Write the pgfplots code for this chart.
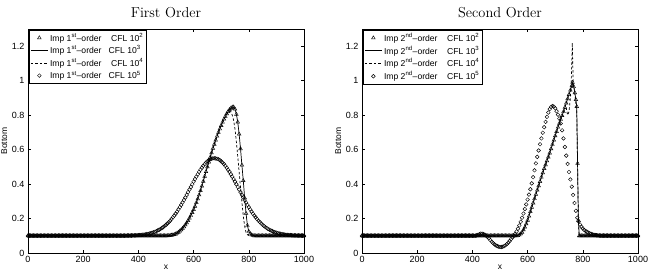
\documentclass[border=0pt]{standalone}
\usepackage{fontspec}
\setsansfont{Liberation Sans}
\usepackage{pgfplots}
\pgfplotsset{compat=1.18}

\pgfplotsset{
  bedpanel/.style={
    scale only axis,
    width=276pt, height=224pt,
    xmin=0, xmax=1000, ymin=0, ymax=1.3,
    xtick={0,200,400,600,800,1000},
    ytick={0,0.2,0.4,0.6,0.8,1,1.2},
    xtick pos=both, ytick pos=both,
    tick align=inside,
    major tick length=3pt,
    axis line style={line width=0.7pt},
    every tick/.style={line width=0.5pt, black},
    tick label style={font=\fontsize{9}{10}\selectfont\sffamily},
    /pgf/number format/assume math mode=true,
    /pgf/number format/1000 sep={},
    label style={font=\fontsize{8.5}{9}\selectfont\sffamily},
    xlabel={x}, ylabel={Bottom},
    xlabel style={yshift=5pt},
    ylabel style={yshift=-2pt},
    title style={font=\fontsize{14.4}{17}\selectfont, yshift=2pt},
    legend style={
      at={(0.004,0.996)}, anchor=north west,
      draw=black, line width=0.7pt, fill=white,
      font=\fontsize{8.6}{10}\selectfont\sffamily,
      inner sep=1pt, row sep=-0.5pt,
      nodes={inner sep=1.8pt},
    },
    legend cell align=left,
  },
  trimark/.style={only marks, black, mark=triangle, mark size=2.1pt, mark options={line width=0.45pt}},
  circmark/.style={only marks, black, mark=o, mark size=1.85pt, mark options={line width=0.45pt}},
  solidline/.style={black, no marks, line width=0.7pt},
  dashline/.style={black, no marks, line width=0.7pt, dash pattern=on 2.5pt off 2pt},
}

\begin{document}
\begin{tikzpicture}
\useasboundingbox (-28pt,-26pt) rectangle (620pt,253pt);

% ---------------- first order scheme ----------------
\begin{axis}[bedpanel, at={(0pt,0pt)}, anchor=south west, title={First Order}]
\addplot[trimark] coordinates {
(0,0.1)(5,0.1)(10,0.1)(15,0.1)(20,0.1)(25,0.1)(30,0.1)(35,0.1)(40,0.1)(45,0.1)
(50,0.1)(55,0.1)(60,0.1)(65,0.1)(70,0.1)(75,0.1)(80,0.1)(85,0.1)(90,0.1)(95,0.1)
(100,0.1)(105,0.1)(110,0.1)(115,0.1)(120,0.1)(125,0.1)(130,0.1)(135,0.1)(140,0.1)(145,0.1)
(150,0.1)(155,0.1)(160,0.1)(165,0.1)(170,0.1)(175,0.1)(180,0.1)(185,0.1)(190,0.1)(195,0.1)
(200,0.1)(205,0.1)(210,0.1)(215,0.1)(220,0.1)(225,0.1)(230,0.1)(235,0.1)(240,0.1)(245,0.1)
(250,0.1)(255,0.1)(260,0.1)(265,0.1)(270,0.1)(275,0.1)(280,0.1)(285,0.1)(290,0.1)(295,0.1)
(300,0.1)(305,0.1)(310,0.1)(315,0.1)(320,0.1)(325,0.1)(330,0.1)(335,0.1)(340,0.1)(345,0.1)
(350,0.1)(355,0.1)(360,0.1)(365,0.1)(370,0.1)(375,0.1)(380,0.1)(385,0.1)(390,0.1)(395,0.1)
(400,0.1)(405,0.1)(410,0.1)(415,0.1)(420,0.1)(425,0.1)(430,0.1)(435,0.1)(440,0.1)(445,0.1)
(450,0.1)(455,0.1)(460,0.1)(465,0.1)(470,0.1)(475,0.1)(480,0.1)(485,0.1)(490,0.1)(495,0.1)
(500,0.100)(505,0.100)(510,0.101)(515,0.102)(520,0.103)(525,0.105)(530,0.107)(535,0.110)
(540,0.115)(545,0.120)(550,0.127)(555,0.134)(560,0.143)(565,0.152)(570,0.163)(575,0.175)
(580,0.188)(585,0.202)(590,0.218)(595,0.235)(600,0.252)(605,0.271)(610,0.292)(615,0.314)
(620,0.337)(625,0.362)(630,0.388)(635,0.416)(640,0.445)(645,0.472)(650,0.500)(655,0.528)
(660,0.555)(665,0.581)(670,0.607)(675,0.631)(680,0.655)(685,0.678)(690,0.700)(695,0.720)
(700,0.740)(705,0.759)(710,0.777)(715,0.793)(720,0.808)(725,0.821)(730,0.832)(735,0.840)
(740,0.846)(745,0.847)(750,0.835)(755,0.805)(760,0.760)(765,0.690)(770,0.605)(775,0.510)
(780,0.420)(785,0.320)(790,0.230)(795,0.160)(800,0.125)(805,0.112)(810,0.105)(815,0.102)
(820,0.100)(825,0.1)(830,0.1)(835,0.1)(840,0.1)(845,0.1)(850,0.1)(855,0.1)(860,0.1)(865,0.1)
(870,0.1)(875,0.1)(880,0.1)(885,0.1)(890,0.1)(895,0.1)(900,0.1)(905,0.1)(910,0.1)(915,0.1)
(920,0.1)(925,0.1)(930,0.1)(935,0.1)(940,0.1)(945,0.1)(950,0.1)(955,0.1)(960,0.1)(965,0.1)
(970,0.1)(975,0.1)(980,0.1)(985,0.1)(990,0.1)(995,0.1)(1000,0.1)
};
\addlegendentry{Imp 1\textsuperscript{st}--order\ \ \ \ CFL 10\textsuperscript{2}}
\addplot[solidline] coordinates {
(0,0.1)(500,0.100)(510,0.101)(520,0.103)(530,0.107)(540,0.115)(550,0.127)(560,0.143)
(570,0.163)(580,0.188)(590,0.218)(600,0.252)(610,0.292)(620,0.337)(630,0.388)(640,0.445)
(650,0.500)(660,0.555)(670,0.607)(680,0.655)(690,0.700)(700,0.740)(710,0.777)(720,0.808)
(730,0.832)(740,0.846)(745,0.847)(750,0.835)(755,0.805)(760,0.760)(765,0.690)(770,0.605)
(775,0.510)(780,0.420)(785,0.320)(790,0.230)(795,0.160)(800,0.125)(805,0.112)(810,0.105)
(820,0.100)(1000,0.1)
};
\addlegendentry{Imp 1\textsuperscript{st}--order\ \ \ CFL 10\textsuperscript{3}}
\addplot[dashline] coordinates {
(0,0.1)(500,0.100)(510,0.101)(520,0.103)(530,0.107)(540,0.115)(550,0.127)(560,0.143)
(570,0.163)(580,0.188)(590,0.218)(600,0.252)(610,0.292)(620,0.337)(630,0.388)(640,0.445)
(650,0.500)(660,0.555)(670,0.607)(680,0.655)(690,0.700)(700,0.740)(710,0.777)(720,0.805)
(725,0.815)(730,0.822)(735,0.822)(740,0.800)(745,0.770)(750,0.720)(755,0.645)(760,0.560)
(765,0.470)(770,0.380)(775,0.295)(780,0.215)(785,0.155)(790,0.120)(795,0.106)(800,0.102)
(805,0.100)(1000,0.1)
};
\addlegendentry{Imp 1\textsuperscript{st}--order\ \ \ \ CFL 10\textsuperscript{4}}
\addplot[circmark] coordinates {
(0,0.1)(5,0.1)(10,0.1)(15,0.1)(20,0.1)(25,0.1)(30,0.1)(35,0.1)(40,0.1)(45,0.1)
(50,0.1)(55,0.1)(60,0.1)(65,0.1)(70,0.1)(75,0.1)(80,0.1)(85,0.1)(90,0.1)(95,0.1)
(100,0.1)(105,0.1)(110,0.1)(115,0.1)(120,0.1)(125,0.1)(130,0.1)(135,0.1)(140,0.1)(145,0.1)
(150,0.1)(155,0.1)(160,0.1)(165,0.1)(170,0.1)(175,0.1)(180,0.1)(185,0.1)(190,0.1)(195,0.1)
(200,0.1)(205,0.1)(210,0.1)(215,0.1)(220,0.1)(225,0.1)(230,0.1)(235,0.1)(240,0.1)(245,0.1)
(250,0.1)(255,0.1)(260,0.1)(265,0.1)(270,0.1)(275,0.1)(280,0.1)(285,0.1)(290,0.1)(295,0.1)
(300,0.1)(305,0.1)(310,0.1)(315,0.1)(320,0.1)(325,0.1)(330,0.1)(335,0.1)(340,0.1)(345,0.1)
(350,0.100)(355,0.100)(360,0.101)(365,0.101)(370,0.101)(375,0.101)(380,0.102)(385,0.102)
(390,0.102)(395,0.103)(400,0.104)(405,0.104)(410,0.105)(415,0.106)(420,0.107)(425,0.108)
(430,0.110)(435,0.111)(440,0.113)(445,0.115)(450,0.118)(455,0.120)(460,0.123)(465,0.127)
(470,0.131)(475,0.135)(480,0.139)(485,0.145)(490,0.150)(495,0.157)(500,0.163)(505,0.171)
(510,0.179)(515,0.187)(520,0.197)(525,0.207)(530,0.217)(535,0.228)(540,0.240)(545,0.253)
(550,0.266)(555,0.279)(560,0.293)(565,0.307)(570,0.322)(575,0.337)(580,0.353)(585,0.368)
(590,0.383)(595,0.399)(600,0.414)(605,0.429)(610,0.443)(615,0.457)(620,0.471)(625,0.483)
(630,0.495)(635,0.506)(640,0.516)(645,0.525)(650,0.532)(655,0.539)(660,0.544)(665,0.547)
(670,0.549)(675,0.550)(680,0.549)(685,0.547)(690,0.544)(695,0.539)(700,0.532)(705,0.525)
(710,0.516)(715,0.506)(720,0.495)(725,0.483)(730,0.471)(735,0.457)(740,0.443)(745,0.429)
(750,0.414)(755,0.399)(760,0.383)(765,0.368)(770,0.353)(775,0.337)(780,0.322)(785,0.307)
(790,0.293)(795,0.279)(800,0.266)(805,0.253)(810,0.240)(815,0.228)(820,0.217)(825,0.207)
(830,0.197)(835,0.187)(840,0.179)(845,0.171)(850,0.163)(855,0.157)(860,0.150)(865,0.145)
(870,0.139)(875,0.135)(880,0.131)(885,0.127)(890,0.123)(895,0.120)(900,0.118)(905,0.115)
(910,0.113)(915,0.111)(920,0.110)(925,0.108)(930,0.107)(935,0.106)(940,0.105)(945,0.104)
(950,0.104)(955,0.103)(960,0.102)(965,0.102)(970,0.102)(975,0.101)(980,0.101)(985,0.101)
(990,0.101)(995,0.100)(1000,0.100)
};
\addlegendentry{Imp 1\textsuperscript{st}--order\ \ \ CFL 10\textsuperscript{5}}
\end{axis}

% ---------------- second order scheme ----------------
\begin{axis}[bedpanel, at={(334pt,0pt)}, anchor=south west, title={Second Order}]
\addplot[trimark] coordinates {
(0,0.1)(5,0.1)(10,0.1)(15,0.1)(20,0.1)(25,0.1)(30,0.1)(35,0.1)(40,0.1)(45,0.1)
(50,0.1)(55,0.1)(60,0.1)(65,0.1)(70,0.1)(75,0.1)(80,0.1)(85,0.1)(90,0.1)(95,0.1)
(100,0.1)(105,0.1)(110,0.1)(115,0.1)(120,0.1)(125,0.1)(130,0.1)(135,0.1)(140,0.1)(145,0.1)
(150,0.1)(155,0.1)(160,0.1)(165,0.1)(170,0.1)(175,0.1)(180,0.1)(185,0.1)(190,0.1)(195,0.1)
(200,0.1)(205,0.1)(210,0.1)(215,0.1)(220,0.1)(225,0.1)(230,0.1)(235,0.1)(240,0.1)(245,0.1)
(250,0.1)(255,0.1)(260,0.1)(265,0.1)(270,0.1)(275,0.1)(280,0.1)(285,0.1)(290,0.1)(295,0.1)
(300,0.1)(305,0.1)(310,0.1)(315,0.1)(320,0.1)(325,0.1)(330,0.1)(335,0.1)(340,0.1)(345,0.1)
(350,0.1)(355,0.1)(360,0.1)(365,0.1)(370,0.1)(375,0.1)(380,0.1)(385,0.1)(390,0.1)(395,0.1)
(400,0.1)(405,0.1)(410,0.1)(415,0.1)(420,0.1)(425,0.1)(430,0.1)(435,0.1)(440,0.1)(445,0.1)
(450,0.1)(455,0.1)(460,0.1)(465,0.1)(470,0.1)(475,0.1)(480,0.1)(485,0.1)(490,0.1)(495,0.1)
(500,0.1)(505,0.1)(510,0.1)(515,0.1)(520,0.1)(525,0.1)(530,0.1)(535,0.1)(540,0.1)(545,0.1)
(550,0.1)(555,0.1)(560,0.100)(565,0.101)(570,0.105)(575,0.111)(580,0.120)(585,0.134)
(590,0.150)(595,0.169)(600,0.190)(605,0.214)(610,0.240)(615,0.265)(620,0.290)(625,0.315)
(630,0.340)(635,0.365)(640,0.390)(645,0.415)(650,0.440)(655,0.465)(660,0.490)(665,0.512)
(670,0.535)(675,0.557)(680,0.580)(685,0.605)(690,0.630)(695,0.655)(700,0.680)(705,0.705)
(710,0.730)(715,0.752)(720,0.775)(725,0.797)(730,0.820)(735,0.845)(740,0.870)(745,0.895)
(750,0.920)(755,0.945)(760,0.970)(763,0.990)(767,0.965)(771,0.930)(775,0.890)(778,0.850)
(781,0.520)(784,0.190)(787,0.100)(790,0.1)(795,0.1)(800,0.1)(805,0.1)(810,0.1)(815,0.1)
(820,0.1)(825,0.1)(830,0.1)(835,0.1)(840,0.1)(845,0.1)(850,0.1)(855,0.1)(860,0.1)(865,0.1)
(870,0.1)(875,0.1)(880,0.1)(885,0.1)(890,0.1)(895,0.1)(900,0.1)(905,0.1)(910,0.1)(915,0.1)
(920,0.1)(925,0.1)(930,0.1)(935,0.1)(940,0.1)(945,0.1)(950,0.1)(955,0.1)(960,0.1)(965,0.1)
(970,0.1)(975,0.1)(980,0.1)(985,0.1)(990,0.1)(995,0.1)(1000,0.1)
};
\addlegendentry{Imp 2\textsuperscript{nd}--order\ \ \ \ CFL 10\textsuperscript{2}}
\addplot[solidline] coordinates {
(0,0.1)(560,0.100)(570,0.105)(580,0.120)(590,0.150)(600,0.190)(610,0.240)(620,0.290)
(630,0.340)(640,0.390)(650,0.440)(660,0.490)(670,0.535)(680,0.580)(690,0.630)(700,0.680)
(710,0.730)(720,0.775)(730,0.820)(740,0.870)(750,0.920)(760,0.970)(763,0.990)(767,0.965)
(771,0.930)(775,0.890)(778,0.850)(781,0.520)(784,0.190)(787,0.100)(1000,0.1)
};
\addlegendentry{Imp 2\textsuperscript{nd}--order\ \ \ \ CFL 10\textsuperscript{3}}
\addplot[dashline] coordinates {
(0,0.1)(560,0.100)(570,0.105)(580,0.120)(590,0.150)(600,0.190)(610,0.240)(620,0.290)
(630,0.340)(640,0.390)(650,0.440)(660,0.490)(670,0.535)(680,0.580)(690,0.630)(700,0.680)
(710,0.730)(720,0.775)(730,0.815)(735,0.835)(740,0.840)(745,0.800)(750,0.820)(755,0.900)
(758,0.990)(762,1.220)(765,1.000)(770,0.940)(778,0.820)(781,0.500)(784,0.190)(787,0.100)
(1000,0.1)
};
\addlegendentry{Imp 2\textsuperscript{nd}--order\ \ \ \ CFL 10\textsuperscript{4}}
\addplot[circmark] coordinates {
(0,0.1)(5,0.1)(10,0.1)(15,0.1)(20,0.1)(25,0.1)(30,0.1)(35,0.1)(40,0.1)(45,0.1)
(50,0.1)(55,0.1)(60,0.1)(65,0.1)(70,0.1)(75,0.1)(80,0.1)(85,0.1)(90,0.1)(95,0.1)
(100,0.1)(105,0.1)(110,0.1)(115,0.1)(120,0.1)(125,0.1)(130,0.1)(135,0.1)(140,0.1)(145,0.1)
(150,0.1)(155,0.1)(160,0.1)(165,0.1)(170,0.1)(175,0.1)(180,0.1)(185,0.1)(190,0.1)(195,0.1)
(200,0.1)(205,0.1)(210,0.1)(215,0.1)(220,0.1)(225,0.1)(230,0.1)(235,0.1)(240,0.1)(245,0.1)
(250,0.1)(255,0.1)(260,0.1)(265,0.1)(270,0.1)(275,0.1)(280,0.1)(285,0.1)(290,0.1)(295,0.1)
(300,0.1)(305,0.1)(310,0.1)(315,0.1)(320,0.1)(325,0.1)(330,0.1)(335,0.1)(340,0.1)(345,0.1)
(350,0.1)(355,0.1)(360,0.1)(365,0.1)(370,0.1)(375,0.1)(380,0.1)(385,0.1)(390,0.1)(395,0.1)
(400,0.1)(405,0.1)(410,0.100)(415,0.102)(420,0.105)(425,0.109)(430,0.112)(435,0.112)
(440,0.110)(445,0.106)(450,0.100)(455,0.093)(460,0.085)(465,0.075)(470,0.065)(475,0.057)
(480,0.050)(485,0.044)(490,0.040)(495,0.037)(500,0.035)(505,0.035)(510,0.036)(515,0.040)
(520,0.045)(525,0.052)(530,0.060)(535,0.070)(540,0.080)(545,0.090)(550,0.100)(555,0.111)
(560,0.125)(565,0.141)(570,0.160)(575,0.181)(580,0.205)(585,0.229)(590,0.255)(595,0.282)
(600,0.310)(605,0.339)(610,0.370)(615,0.404)(620,0.440)(625,0.480)(630,0.520)(635,0.558)
(640,0.595)(645,0.631)(650,0.665)(655,0.698)(660,0.730)(665,0.761)(670,0.790)(675,0.815)
(680,0.835)(685,0.848)(690,0.853)(695,0.850)(700,0.840)(705,0.823)(710,0.803)(715,0.780)
(720,0.752)(725,0.712)(730,0.665)(735,0.615)(740,0.565)(745,0.517)(750,0.470)(755,0.427)
(760,0.385)(765,0.337)(770,0.290)(775,0.245)(780,0.205)(785,0.182)(790,0.165)(795,0.152)
(800,0.142)(805,0.134)(810,0.128)(815,0.123)(820,0.118)(825,0.114)(830,0.111)(835,0.108)
(840,0.106)(845,0.104)(850,0.103)(855,0.102)(860,0.101)(865,0.100)(870,0.1)(875,0.1)
(880,0.1)(885,0.1)(890,0.1)(895,0.1)(900,0.1)(905,0.1)(910,0.1)(915,0.1)(920,0.1)(925,0.1)
(930,0.1)(935,0.1)(940,0.1)(945,0.1)(950,0.1)(955,0.1)(960,0.1)(965,0.1)(970,0.1)(975,0.1)
(980,0.1)(985,0.1)(990,0.1)(995,0.1)(1000,0.1)
};
\addlegendentry{Imp 2\textsuperscript{nd}--order\ \ \ \ CFL 10\textsuperscript{5}}
\end{axis}
\end{tikzpicture}
\end{document}
